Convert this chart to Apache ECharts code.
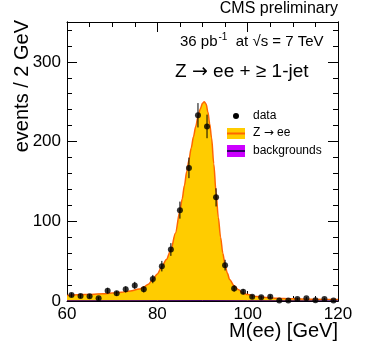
<!DOCTYPE html>
<html>
<head>
<meta charset="utf-8">
<script src="https://cdn.jsdelivr.net/npm/echarts@6/dist/echarts.min.js"></script>
<style>
html, body { margin: 0; padding: 0; background: #fff; }
#chart { width: 371px; height: 358px; }
</style>
</head>
<body>
<div id="chart"></div>
<script>
// data points (bin centres, 2 GeV bins)
var binCenters = [61, 63, 65, 67, 69, 71, 73, 75, 77, 79, 81, 83, 85, 87, 89,
    91, 93, 95, 97, 99, 101, 103, 105, 107, 109, 111, 113, 115, 117, 119];
var dataCounts = [7.5, 6.3, 6, 3.3, 13, 9.6, 14.6, 19.6, 14.6, 27.5, 43.7, 64.6, 114, 167, 233,
    219, 130, 45, 15.8, 11.7, 5.4, 4.6, 5.4, 0.5, 0.5, 2.5, 3.3, 0.8, 2.5, 0.5];
var dataErrors = [2.7, 2.5, 2.5, 1.8, 3.6, 3.1, 3.8, 4.4, 3.8, 5.2, 6.6, 8, 10.7, 12.9, 15.3,
    14.8, 11.4, 6.7, 4, 3.4, 2.3, 2.1, 2.3, 0.6, 0.6, 1.6, 1.8, 0.9, 1.6, 0.6];

// Z -> ee fit curve
var zCurveX = [60, 64, 68, 70, 72, 74, 76, 77, 78, 79, 80, 81, 82, 83, 84, 85, 85.5, 86, 86.5,
    87, 87.5, 88, 88.5, 89, 89.5, 90, 90.4, 90.8, 91.2, 91.6, 92, 92.5, 93, 93.5, 94, 94.5,
    95, 95.5, 96, 97, 98, 99, 100, 102, 104, 106, 108, 110, 114, 120];
var zCurveY = [7, 8, 9, 10, 11, 12.5, 15, 17.5, 21, 27, 34, 43, 52, 64, 85, 113, 128, 145, 162,
    177, 192, 206, 219, 231, 241, 248, 250, 247, 237, 222, 205, 172, 136, 105, 80, 60,
    45, 35, 27, 19, 14, 10, 8, 5.5, 4.3, 3.6, 3.1, 2.7, 2.2, 1.8];

// backgrounds
var bkgX = [60, 80, 90, 100, 120];
var bkgY = [0.3, 0.4, 0.5, 0.3, 0.2];

var xTicks = { min: 60, max: 120, interval: 20 };

(function () {
    var myChart = echarts.init(document.getElementById("chart"), null, { renderer: "canvas" });
    var font = "Liberation Sans";

    var pts = binCenters.map(function (x, i) { return [x, dataCounts[i]]; });
    var errs = binCenters.map(function (x, i) { return [x, dataCounts[i], dataErrors[i]]; });
    var zLine = zCurveX.map(function (x, i) { return [x, zCurveY[i]]; });
    var bkgLine = bkgX.map(function (x, i) { return [x, bkgY[i]]; });

    function xAxisDef(pos, showLabel) {
        return {
            type: "value", position: pos, min: xTicks.min, max: xTicks.max, interval: xTicks.interval,
            axisLine: { show: true, onZero: false, lineStyle: { color: "#000", width: 1 } },
            axisTick: { show: true, inside: true, length: 10, lineStyle: { color: "#000" } },
            minorTick: { show: true, splitNumber: 4, length: 5, lineStyle: { color: "#000" } },
            splitLine: { show: false },
            axisLabel: { show: showLabel, color: "#000", fontSize: 17, fontFamily: font, margin: 5 }
        };
    }
    function yAxisDef(pos, interval, len, showLabel) {
        return {
            type: "value", position: pos, min: 0, max: 350, interval: interval,
            axisLine: { show: true, onZero: false, lineStyle: { color: "#000", width: 1 } },
            axisTick: { show: true, inside: true, length: len, lineStyle: { color: "#000" } },
            splitLine: { show: false },
            axisLabel: {
                show: showLabel, color: "#000", fontSize: 17, fontFamily: font, margin: 6,
                formatter: function (v) { return v % 100 === 0 ? String(v) : ""; }
            }
        };
    }

    // 带箭头的文字，箭头用 DejaVu Sans
    function arrowText(size, before, after) {
        return {
            text: "{n|" + before + "}{a|\u2192}{n|" + after + "}",
            verticalAlign: "middle",
            rich: {
                n: { fontSize: size, fontFamily: font, fill: "#000" },
                a: { fontSize: size, fontFamily: "DejaVu Sans", fill: "#000" }
            }
        };
    }

    var option = {
        animation: false,
        backgroundColor: "#fff",
        grid: { left: 67, right: 33, top: 22, bottom: 57, containLabel: false },
        xAxis: [xAxisDef("bottom", true), xAxisDef("top", false)],
        yAxis: [
            yAxisDef("left", 20, 5, true),
            yAxisDef("left", 100, 10, false),
            yAxisDef("right", 20, 5, false),
            yAxisDef("right", 100, 10, false)
        ],
        graphic: [
            { type: "text", x: 338, y: 17, style: { text: "CMS preliminary", font: "16px " + font, fill: "#000", align: "right", verticalAlign: "bottom" } },
            {
                type: "text", x: 180, y: 42,
                style: {
                    text: "{n|36 pb}{s|-1}{n|  at \u221As = 7 TeV}",
                    verticalAlign: "middle",
                    rich: {
                        n: { fontSize: 15, fontFamily: font, fill: "#000" },
                        s: { fontSize: 10, fontFamily: font, fill: "#000", padding: [0, 0, 9, 1] }
                    }
                }
            },
            { type: "text", x: 175, y: 72, style: arrowText(19, "Z ", " ee + \u2265 1-jet") },
            { type: "text", x: 22, y: 20, rotation: Math.PI / 2, style: { text: "events / 2 GeV", font: "20px " + font, fill: "#000", align: "right", verticalAlign: "middle" } },
            { type: "text", x: 338, y: 331, style: { text: "M(ee) [GeV]", font: "20px " + font, fill: "#000", align: "right", verticalAlign: "middle" } },
            // 图例
            { type: "circle", shape: { cx: 236, cy: 116, r: 3 }, style: { fill: "#000" } },
            { type: "text", x: 253, y: 116, style: { text: "data", font: "12px " + font, fill: "#000", verticalAlign: "middle" } },
            { type: "rect", shape: { x: 227, y: 128, width: 18, height: 11 }, style: { fill: "#ffcc00" } },
            { type: "line", shape: { x1: 227, y1: 133.5, x2: 245, y2: 133.5 }, style: { stroke: "#ff6600", lineWidth: 2 } },
            { type: "text", x: 253, y: 133, style: arrowText(12, "Z ", " ee") },
            { type: "rect", shape: { x: 227, y: 145, width: 18, height: 12 }, style: { fill: "#cc00ff" } },
            { type: "line", shape: { x1: 227, y1: 151, x2: 245, y2: 151 }, style: { stroke: "#330066", lineWidth: 2 } },
            { type: "text", x: 253, y: 151, style: { text: "backgrounds", font: "12px " + font, fill: "#000", verticalAlign: "middle" } }
        ],
        series: [
            {
                name: "Z \u2192 ee",
                type: "line",
                data: zLine,
                smooth: 0.3,
                smoothMonotone: "x",
                showSymbol: false,
                lineStyle: { color: "#ff6600", width: 1.5 },
                areaStyle: { color: "#ffcc00", opacity: 1 },
                z: 2
            },
            {
                name: "backgrounds",
                type: "line",
                data: bkgLine,
                showSymbol: false,
                lineStyle: { color: "#330066", width: 1 },
                areaStyle: { color: "#cc00ff", opacity: 1 },
                z: 3
            },
            {
                name: "errors",
                type: "custom",
                data: errs,
                renderItem: function (params, api) {
                    var x = api.value(0), y = api.value(1), e = api.value(2);
                    var p1 = api.coord([x, Math.max(0, y - e)]);
                    var p2 = api.coord([x, y + e]);
                    return {
                        type: "line",
                        shape: { x1: p1[0], y1: p1[1], x2: p2[0], y2: p2[1] },
                        style: { stroke: "#000", lineWidth: 1 }
                    };
                },
                z: 4
            },
            {
                name: "data",
                type: "scatter",
                data: pts,
                symbol: "circle",
                symbolSize: 6,
                itemStyle: { color: "#000" },
                z: 5
            }
        ]
    };
    myChart.setOption(option);
    window.addEventListener("resize", function () {
        myChart.resize();
    });
})();
</script>
</body>
</html>
